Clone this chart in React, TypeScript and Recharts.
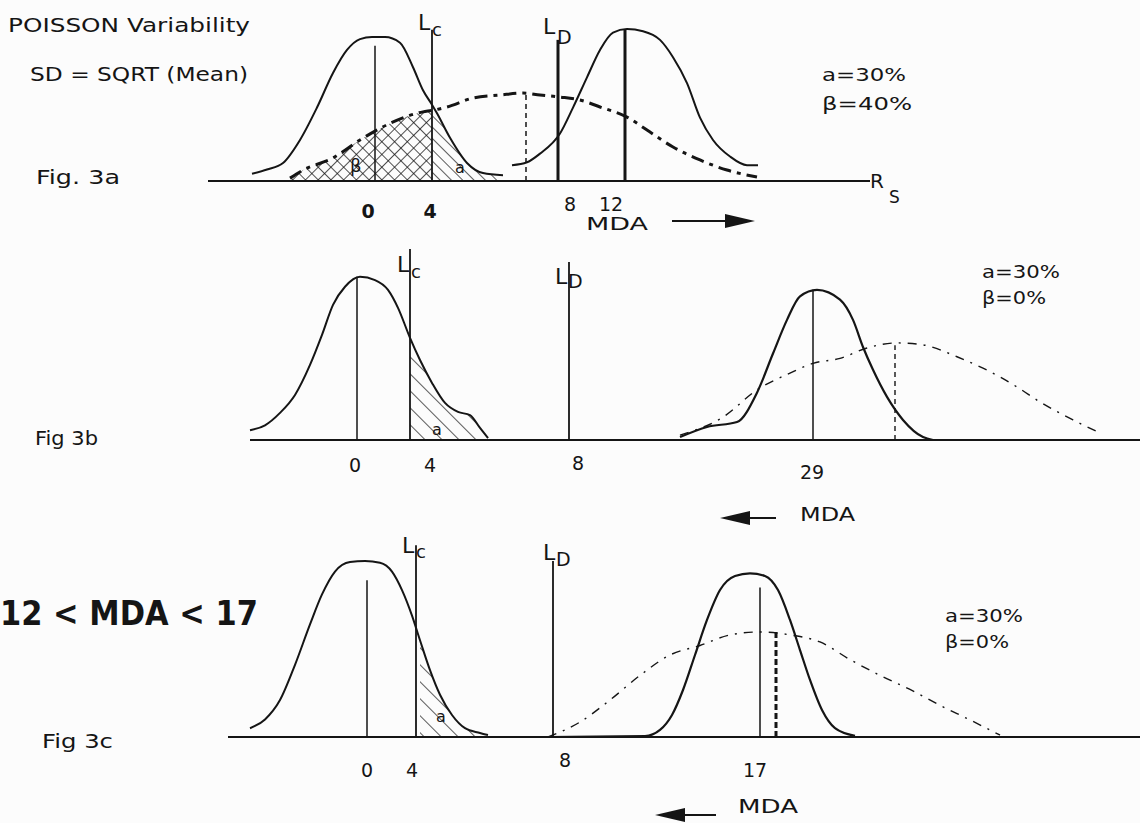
import React from 'react';
import { ComposedChart, Line, Area, XAxis, YAxis, ReferenceLine } from 'recharts';

// x: position along the R_S axis (schematic units), y: density relative to the background peak

// Fig 3a
const bgA = [
  { x: 25.2, y: 0.05 }, { x: 26.7, y: 0.08 }, { x: 28.3, y: 0.125 }, { x: 30.0, y: 0.285 },
  { x: 31.7, y: 0.51 }, { x: 33.3, y: 0.75 }, { x: 34.7, y: 0.91 }, { x: 36.0, y: 0.985 },
  { x: 37.2, y: 1.0 }, { x: 38.5, y: 1.0 }, { x: 40.0, y: 0.96 }, { x: 41.3, y: 0.79 },
  { x: 42.3, y: 0.63 }, { x: 43.2, y: 0.53 }, { x: 43.7, y: 0.47 }, { x: 45.0, y: 0.3 },
  { x: 46.7, y: 0.125 }, { x: 48.3, y: 0.055 }, { x: 50.3, y: 0.04 },
];
const srcA = [
  { x: 51.2, y: 0.11 }, { x: 52.7, y: 0.13 }, { x: 54.0, y: 0.19 }, { x: 56.0, y: 0.33 },
  { x: 57.3, y: 0.51 }, { x: 58.7, y: 0.72 }, { x: 60.0, y: 0.91 }, { x: 61.3, y: 1.03 },
  { x: 62.7, y: 1.055 }, { x: 64.3, y: 1.04 }, { x: 66.0, y: 0.98 }, { x: 67.3, y: 0.86 },
  { x: 68.7, y: 0.68 }, { x: 70.0, y: 0.44 }, { x: 71.3, y: 0.285 }, { x: 73.0, y: 0.17 },
  { x: 74.7, y: 0.11 }, { x: 75.8, y: 0.11 },
];
const ldA = [
  { x: 29.0, y: 0.02 }, { x: 30.3, y: 0.075 }, { x: 33.3, y: 0.16 }, { x: 36.0, y: 0.285 },
  { x: 39.0, y: 0.4 }, { x: 42.3, y: 0.48 }, { x: 43.2, y: 0.49 },
  { x: 44.7, y: 0.514 }, { x: 47.3, y: 0.576 }, { x: 50.0, y: 0.597 }, { x: 52.3, y: 0.611 },
  { x: 54.0, y: 0.597 }, { x: 56.0, y: 0.583 }, { x: 58.0, y: 0.5625 }, { x: 60.0, y: 0.514 },
  { x: 62.7, y: 0.444 }, { x: 64.7, y: 0.354 }, { x: 67.3, y: 0.236 }, { x: 70.0, y: 0.146 },
  { x: 72.7, y: 0.076 }, { x: 75.7, y: 0.028 },
];
const ticksA = [36.8, 43.0, 57.0, 61.1];
const tickLabelsA = ['0', '4', '8', '12'];

// Fig 3b
const bgB = [
  { x: 25.0, y: 0.06 }, { x: 26.5, y: 0.09 }, { x: 28.0, y: 0.166 }, { x: 29.5, y: 0.276 },
  { x: 31.0, y: 0.46 }, { x: 32.2, y: 0.644 }, { x: 33.3, y: 0.828 }, { x: 34.5, y: 0.939 },
  { x: 36.0, y: 1.0 }, { x: 37.5, y: 0.98 }, { x: 38.8, y: 0.92 }, { x: 39.8, y: 0.81 },
  { x: 41.0, y: 0.626 }, { x: 42.0, y: 0.49 }, { x: 43.2, y: 0.35 }, { x: 44.5, y: 0.227 },
  { x: 45.8, y: 0.172 }, { x: 47.0, y: 0.153 }, { x: 48.0, y: 0.074 }, { x: 48.8, y: 0.012 },
];
const srcB = [
  { x: 68.0, y: 0.018 }, { x: 70.7, y: 0.08 }, { x: 73.7, y: 0.11 }, { x: 75.7, y: 0.29 },
  { x: 77.3, y: 0.53 }, { x: 78.7, y: 0.736 }, { x: 80.0, y: 0.88 }, { x: 81.7, y: 0.92 },
  { x: 84.0, y: 0.86 }, { x: 85.3, y: 0.736 }, { x: 86.3, y: 0.57 }, { x: 87.3, y: 0.43 },
  { x: 88.7, y: 0.264 }, { x: 90.3, y: 0.123 }, { x: 92.3, y: 0.018 }, { x: 93.3, y: 0.0 },
];
const ldB = [
  { x: 68.0, y: 0.03 }, { x: 72.3, y: 0.14 }, { x: 75.7, y: 0.307 }, { x: 79.0, y: 0.41 },
  { x: 81.3, y: 0.47 }, { x: 84.0, y: 0.5 }, { x: 86.7, y: 0.564 }, { x: 89.7, y: 0.595 },
  { x: 92.3, y: 0.583 }, { x: 95.7, y: 0.51 }, { x: 98.3, y: 0.44 }, { x: 101.7, y: 0.325 },
  { x: 104.0, y: 0.233 }, { x: 107.3, y: 0.123 }, { x: 110.0, y: 0.043 },
];
const ticksB = [35.5, 43.0, 57.8, 81.2];
const tickLabelsB = ['0', '4', '8', '29'];

// Fig 3c
const bgC = [
  { x: 25.0, y: 0.05 }, { x: 26.5, y: 0.1 }, { x: 28.0, y: 0.21 }, { x: 29.5, y: 0.41 },
  { x: 31.0, y: 0.64 }, { x: 32.2, y: 0.81 }, { x: 33.5, y: 0.94 }, { x: 35.0, y: 0.994 },
  { x: 36.5, y: 1.0 }, { x: 38.0, y: 0.99 }, { x: 39.2, y: 0.94 }, { x: 40.2, y: 0.835 },
  { x: 41.2, y: 0.69 }, { x: 42.0, y: 0.55 }, { x: 43.0, y: 0.38 }, { x: 44.0, y: 0.24 },
  { x: 45.2, y: 0.125 }, { x: 46.5, y: 0.05 }, { x: 48.0, y: 0.023 }, { x: 48.8, y: 0.011 },
];
const srcC = [
  { x: 55.0, y: 0.0 }, { x: 64.5, y: 0.005 }, { x: 66.0, y: 0.04 }, { x: 67.2, y: 0.125 },
  { x: 68.3, y: 0.267 }, { x: 69.5, y: 0.466 }, { x: 70.7, y: 0.665 }, { x: 72.0, y: 0.835 },
  { x: 73.5, y: 0.915 }, { x: 75.0, y: 0.93 }, { x: 76.5, y: 0.915 }, { x: 77.8, y: 0.835 },
  { x: 79.0, y: 0.665 }, { x: 80.0, y: 0.494 }, { x: 81.0, y: 0.324 }, { x: 82.2, y: 0.153 },
  { x: 83.5, y: 0.05 }, { x: 85.5, y: 0.006 },
];
const ldC = [
  { x: 54.8, y: 0.0 }, { x: 58.0, y: 0.085 }, { x: 61.0, y: 0.21 }, { x: 64.0, y: 0.35 },
  { x: 67.0, y: 0.466 }, { x: 70.0, y: 0.52 }, { x: 73.0, y: 0.58 }, { x: 76.0, y: 0.597 },
  { x: 79.0, y: 0.58 }, { x: 82.0, y: 0.54 }, { x: 85.0, y: 0.44 }, { x: 88.0, y: 0.35 },
  { x: 91.0, y: 0.27 }, { x: 94.0, y: 0.18 }, { x: 97.0, y: 0.097 }, { x: 100.0, y: 0.011 },
];
const ticksC = [36.7, 41.2, 56.5, 75.5];
const tickLabelsC = ['0', '4', '8', '17'];

// decision levels L_C and L_D per panel
const LC = { a: 43.2, b: 41.0, c: 41.6 };
const LD = { a: 55.8, b: 56.9, c: 55.3 };

const INK = '#151515';
const FONT = '"DejaVu Sans", sans-serif';
const W = 1140;
const YMAX = 1.25;
const AXIS_H = 56;

const makeTick = (ticks: number[], labels: string[], dys: number[], weights: number[]) => (props: any) => {
  const i = ticks.indexOf(props.payload.value);
  return (
    <text x={props.x} y={props.y + (dys[i] ?? 30)} textAnchor="middle" fontFamily={FONT}
      fontSize={19} fontWeight={weights[i] ?? 400} fill={INK}>
      {labels[i]}
    </text>
  );
};

const Patterns = ({ id, single, cross }: { id: string; single: number; cross: number }) => (
  <defs>
    <pattern id={`single-${id}`} width={single} height={single} patternUnits="userSpaceOnUse" patternTransform="rotate(-45)">
      <line x1="0" y1="0" x2="0" y2={single} stroke={INK} strokeWidth="1.4" />
    </pattern>
    <pattern id={`cross-${id}`} width={cross} height={cross} patternUnits="userSpaceOnUse" patternTransform="rotate(45)">
      <line x1="0" y1="0" x2="0" y2={cross} stroke={INK} strokeWidth="1.5" />
      <line x1="0" y1="0" x2={cross} y2="0" stroke={INK} strokeWidth="1.5" />
    </pattern>
  </defs>
);

const vline = (x: number, top: number, width: number, dash?: string) => (
  <ReferenceLine segment={[{ x, y: 0 }, { x, y: top }]} stroke={INK} strokeWidth={width}
    strokeDasharray={dash} ifOverflow="visible" />
);

const margin = { top: 0, right: 0, bottom: 0, left: 0 };

function PanelA() {
  return (
    <ComposedChart width={W} height={180 + AXIS_H} margin={margin}>
      <Patterns id="a" single={8} cross={9} />
      <XAxis type="number" dataKey="x" domain={[0, 114]} ticks={ticksA} axisLine={false} tickLine={false}
        tickSize={0} tickMargin={0} height={AXIS_H} interval={0}
        tick={makeTick(ticksA, tickLabelsA, [37, 37, 30, 30], [700, 700, 400, 400])} />
      <YAxis type="number" domain={[0, YMAX]} hide />
      <Area data={ldA.filter((p) => p.x <= LC.a)} dataKey="y" type="monotone" stroke="none"
        fill="url(#cross-a)" fillOpacity={1} isAnimationActive={false} />
      <Area data={bgA.filter((p) => p.x >= LC.a)} dataKey="y" type="monotone" stroke="none"
        fill="url(#single-a)" fillOpacity={1} isAnimationActive={false} />
      <Line data={bgA} dataKey="y" type="monotone" stroke={INK} strokeWidth={2} dot={false} isAnimationActive={false} />
      <Line data={srcA} dataKey="y" type="monotone" stroke={INK} strokeWidth={2} dot={false} isAnimationActive={false} />
      <Line data={ldA} dataKey="y" type="monotone" stroke={INK} strokeWidth={3} strokeDasharray="13 6 4 6"
        dot={false} isAnimationActive={false} />
      <ReferenceLine segment={[{ x: 20.8, y: 0 }, { x: 87.0, y: 0 }]} stroke={INK} strokeWidth={2} />
      {vline(37.5, 0.94, 1.5)}
      {vline(LC.a, 1.05, 1.8)}
      {vline(LD.a, 0.98, 3)}
      {vline(62.5, 1.05, 3)}
      {vline(52.6, 0.6, 1.5, '5 4')}
    </ComposedChart>
  );
}

function PanelB() {
  return (
    <ComposedChart width={W} height={204 + AXIS_H} margin={margin}>
      <Patterns id="b" single={12} cross={9} />
      <XAxis type="number" dataKey="x" domain={[0, 114]} ticks={ticksB} axisLine={false} tickLine={false}
        tickSize={0} tickMargin={0} height={AXIS_H} interval={0}
        tick={makeTick(ticksB, tickLabelsB, [32, 32, 30, 39], [400, 400, 400, 400])} />
      <YAxis type="number" domain={[0, YMAX]} hide />
      <Area data={bgB.filter((p) => p.x >= LC.b)} dataKey="y" type="monotone" stroke="none"
        fill="url(#single-b)" fillOpacity={1} isAnimationActive={false} />
      <Line data={bgB} dataKey="y" type="monotone" stroke={INK} strokeWidth={2} dot={false} isAnimationActive={false} />
      <Line data={srcB} dataKey="y" type="monotone" stroke={INK} strokeWidth={2.2} dot={false} isAnimationActive={false} />
      <Line data={ldB} dataKey="y" type="monotone" stroke={INK} strokeWidth={1.4} strokeDasharray="9 7 2 7"
        dot={false} isAnimationActive={false} />
      <ReferenceLine segment={[{ x: 25.0, y: 0 }, { x: 114, y: 0 }]} stroke={INK} strokeWidth={2} />
      {vline(35.7, 1.0, 1.5)}
      {vline(LC.b, 1.17, 1.8)}
      {vline(LD.b, 1.09, 1.8)}
      {vline(81.3, 0.92, 1.5)}
      {vline(89.5, 0.58, 1.4, '5 4')}
    </ComposedChart>
  );
}

function PanelC() {
  return (
    <ComposedChart width={W} height={220 + AXIS_H} margin={margin}>
      <Patterns id="c" single={12} cross={9} />
      <XAxis type="number" dataKey="x" domain={[0, 114]} ticks={ticksC} axisLine={false} tickLine={false}
        tickSize={0} tickMargin={0} height={AXIS_H} interval={0}
        tick={makeTick(ticksC, tickLabelsC, [40, 40, 30, 40], [400, 400, 400, 400])} />
      <YAxis type="number" domain={[0, YMAX]} hide />
      <Area data={bgC.filter((p) => p.x >= LC.c)} dataKey="y" type="monotone" stroke="none"
        fill="url(#single-c)" fillOpacity={1} isAnimationActive={false} />
      <Line data={bgC} dataKey="y" type="monotone" stroke={INK} strokeWidth={2} dot={false} isAnimationActive={false} />
      <Line data={srcC} dataKey="y" type="monotone" stroke={INK} strokeWidth={2.2} dot={false} isAnimationActive={false} />
      <Line data={ldC} dataKey="y" type="monotone" stroke={INK} strokeWidth={1.4} strokeDasharray="9 7 2 7"
        dot={false} isAnimationActive={false} />
      <ReferenceLine segment={[{ x: 22.8, y: 0 }, { x: 114, y: 0 }]} stroke={INK} strokeWidth={2} />
      {vline(36.7, 0.89, 1.5)}
      {vline(LC.c, 1.09, 1.8)}
      {vline(LD.c, 1.0, 1.8)}
      {vline(76.0, 0.85, 1.5)}
      {vline(77.6, 0.6, 3, '6 3')}
    </ComposedChart>
  );
}

type T = { x: number; y: number; s: string; fs?: number; len?: number; bold?: boolean };
const texts: T[] = [
  { x: 8, y: 32, s: 'POISSON Variability', fs: 19, len: 242 },
  { x: 30, y: 81, s: 'SD = SQRT (Mean)', fs: 20, len: 218 },
  { x: 36, y: 184, s: 'Fig. 3a', fs: 20, len: 84 },
  { x: 822, y: 81, s: 'a=30%', fs: 18, len: 84 },
  { x: 822, y: 110, s: 'β=40%', fs: 18, len: 90 },
  { x: 586, y: 230, s: 'MDA', fs: 17, len: 62 },
  { x: 418, y: 30, s: 'L', fs: 22 }, { x: 432, y: 36, s: 'c', fs: 18 },
  { x: 543, y: 34, s: 'L', fs: 22 }, { x: 557, y: 44, s: 'D', fs: 19 },
  { x: 870, y: 188, s: 'R', fs: 20 }, { x: 889, y: 203, s: 'S', fs: 17 },
  { x: 350, y: 172, s: 'β', fs: 18 }, { x: 455, y: 173, s: 'a', fs: 16 },

  { x: 35, y: 445, s: 'Fig 3b', fs: 19, len: 63 },
  { x: 982, y: 278, s: 'a=30%', fs: 18, len: 78 },
  { x: 982, y: 304, s: 'β=0%', fs: 18, len: 64 },
  { x: 800, y: 521, s: 'MDA', fs: 19, len: 55 },
  { x: 397, y: 272, s: 'L', fs: 22 }, { x: 411, y: 278, s: 'c', fs: 18 },
  { x: 555, y: 284, s: 'L', fs: 22 }, { x: 568, y: 288, s: 'D', fs: 19 },
  { x: 432, y: 435, s: 'a', fs: 16 },

  { x: 0, y: 625, s: '12 < MDA < 17', fs: 34, len: 258, bold: true },
  { x: 42, y: 748, s: 'Fig 3c', fs: 19, len: 71 },
  { x: 945, y: 622, s: 'a=30%', fs: 18, len: 78 },
  { x: 945, y: 648, s: 'β=0%', fs: 18, len: 64 },
  { x: 738, y: 813, s: 'MDA', fs: 19, len: 60 },
  { x: 402, y: 553, s: 'L', fs: 22 }, { x: 416, y: 558, s: 'c', fs: 18 },
  { x: 543, y: 560, s: 'L', fs: 22 }, { x: 556, y: 566, s: 'D', fs: 19 },
  { x: 436, y: 722, s: 'a', fs: 16 },
];

const Arrow = ({ from, to, y }: { from: number; to: number; y: number }) => {
  const dir = Math.sign(to - from);
  const base = to - dir * 30;
  return (
    <g>
      <line x1={from} y1={y} x2={base} y2={y} stroke={INK} strokeWidth={2} />
      <polygon points={`${base},${y - 7} ${to},${y} ${base},${y + 7}`} fill={INK} />
    </g>
  );
};

export default function App() {
  return (
    <div style={{ position: 'absolute', left: 0, top: 0, width: W, height: 823, background: '#fcfcfc', overflow: 'hidden' }}>
      <div style={{ position: 'absolute', left: 0, top: 1 }}><PanelA /></div>
      <div style={{ position: 'absolute', left: 0, top: 236 }}><PanelB /></div>
      <div style={{ position: 'absolute', left: 0, top: 517 }}><PanelC /></div>
      <svg width={W} height={823} style={{ position: 'absolute', left: 0, top: 0, pointerEvents: 'none' }}>
        {texts.map((t, i) => (
          <text key={i} x={t.x} y={t.y} fontFamily={FONT} fontSize={t.fs ?? 18} fill={INK}
            fontWeight={t.bold ? 700 : 400}
            {...(t.len ? { textLength: t.len, lengthAdjust: 'spacingAndGlyphs' } : {})}>
            {t.s}
          </text>
        ))}
        <Arrow from={672} to={755} y={221} />
        <Arrow from={776} to={720} y={518} />
        <Arrow from={716} to={655} y={815} />
      </svg>
    </div>
  );
}
